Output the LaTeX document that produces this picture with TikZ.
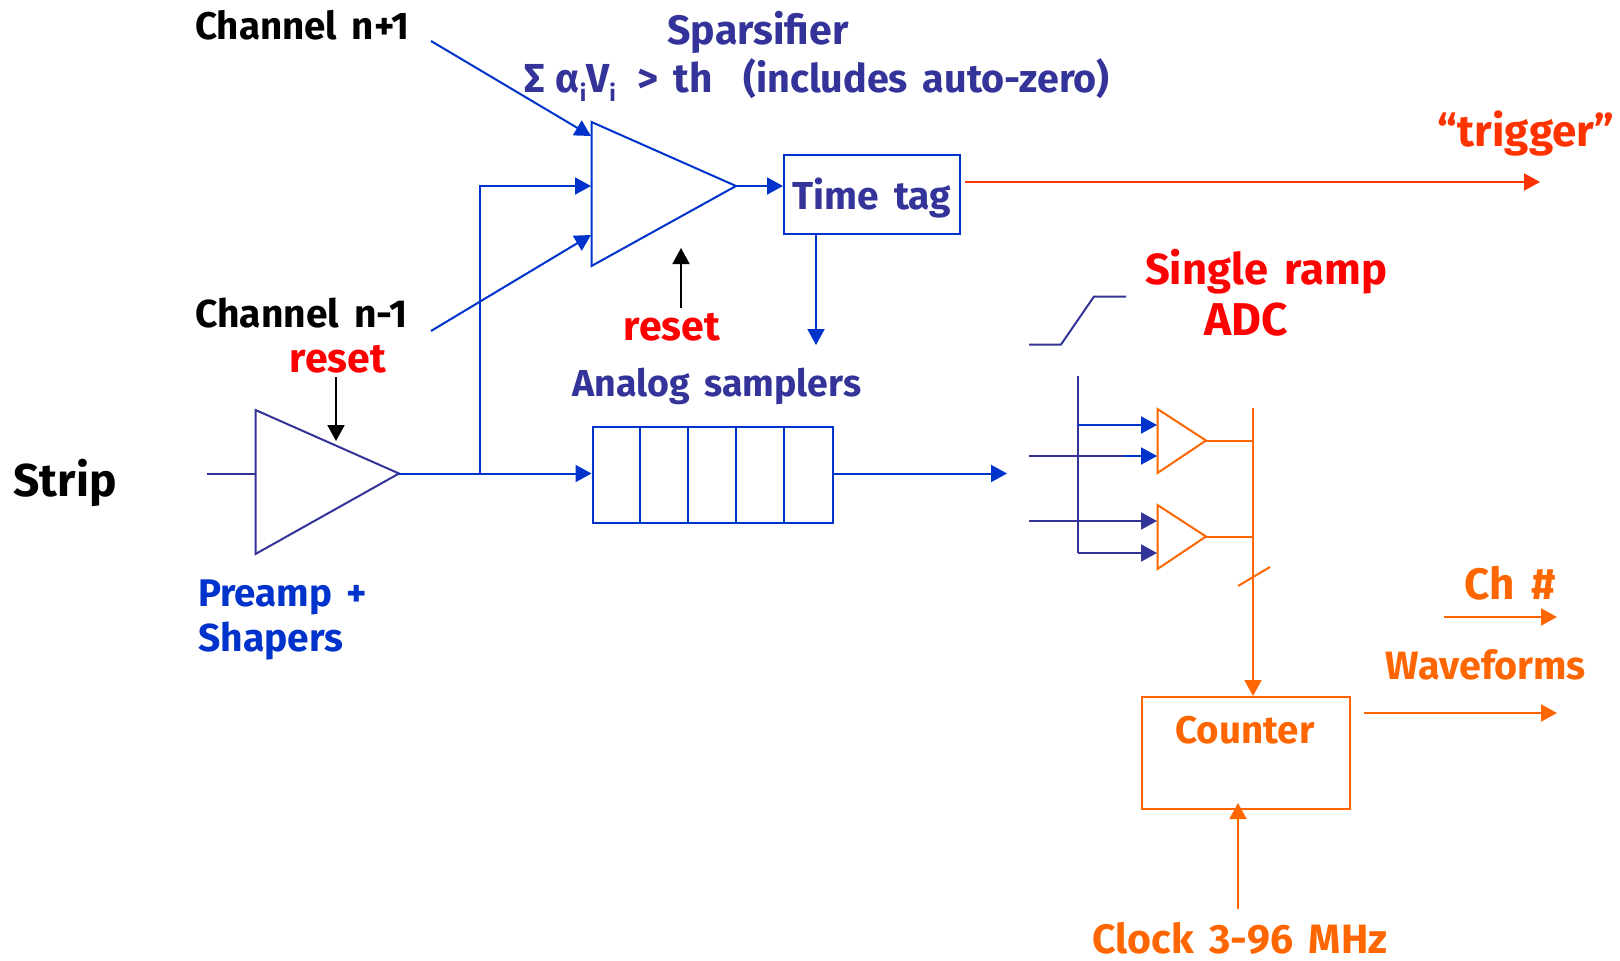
\documentclass[tikz,border=0pt]{standalone}
\usepackage{fontspec}
\setmainfont{Fira Sans}[WordSpace=1.6]
\usetikzlibrary{arrows.meta}
\definecolor{cblue}{HTML}{0033CC}
\definecolor{cnavy}{HTML}{333399}
\definecolor{cred}{HTML}{FF0000}
\definecolor{corange}{HTML}{FF6600}
\definecolor{ctrig}{HTML}{FF3300}
\newcommand{\lowsub}[1]{\raisebox{-.45ex}{\fontsize{23}{23}\selectfont #1}}
\tikzset{
  wire/.style={line width=2pt},
  arr/.style={wire,-{Triangle[length=16pt,width=17pt]}},
  lab/.style={inner sep=0pt,font=\fontsize{#1}{#1}\selectfont\bfseries},
  labl/.style={lab=#1,anchor=west},
  boxb/.style={draw=cblue,wire,inner sep=0pt,anchor=north west},
  boxo/.style={draw=corange,wire,inner sep=0pt,anchor=north west},
  tri/.style={wire,line join=miter}
}
\begin{document}
\begin{tikzpicture}[x=1pt,y=-1pt]
\useasboundingbox (0,0) rectangle (1620,961);
% anchor coordinates
\coordinate (chp) at (431,41);
\coordinate (chm) at (431,331);
\coordinate (sA) at (591.5,122);
\coordinate (sB) at (591.5,266);
\coordinate (sC) at (736,186);
\coordinate (sIn1) at (591,136);
\coordinate (sIn2) at (591,186);
\coordinate (sIn3) at (591,235);
\coordinate (pA) at (255.5,410);
\coordinate (pB) at (255.5,554);
\coordinate (pC) at (399,473.5);
\coordinate (pIn) at (207,473.5);
\coordinate (pI) at (255.5,473.5);
\coordinate (jn) at (480,473.5);
\coordinate (jup) at (480,186);
\coordinate (rs1) at (336,377);
\coordinate (rs1e) at (336,441);
\coordinate (rs2) at (681,308);
\coordinate (rs2e) at (681,248);
\coordinate (trigS) at (965,182);
\coordinate (trigE) at (1540,182);
\coordinate (ttD) at (816,234);
\coordinate (ttE) at (816,345);
\coordinate (sampE) at (1007,473.5);
\coordinate (r1) at (1029,344.5);
\coordinate (r2) at (1061,344.5);
\coordinate (r3) at (1094,296.5);
\coordinate (r4) at (1126,296.5);
\coordinate (bT) at (1078,376);
\coordinate (bB) at (1078,553);
\coordinate (b1) at (1078,425);
\coordinate (a1) at (1157,425);
\coordinate (i2) at (1029,456);
\coordinate (a2) at (1157,456);
\coordinate (i3) at (1029,521);
\coordinate (a3) at (1157,521);
\coordinate (a4) at (1157,553);
\coordinate (u1A) at (1157.5,409);
\coordinate (u1B) at (1157.5,473);
\coordinate (u1C) at (1206,440.5);
\coordinate (u2A) at (1157.5,505);
\coordinate (u2B) at (1157.5,569);
\coordinate (u2C) at (1206,536.5);
\coordinate (oT) at (1253,408);
\coordinate (o1) at (1253,440.5);
\coordinate (o2) at (1253,536.5);
\coordinate (oB) at (1253,696);
\coordinate (sl1) at (1238,586);
\coordinate (sl2) at (1270,567);
\coordinate (ckS) at (1238,909);
\coordinate (ckE) at (1238,803);
\coordinate (chS) at (1444,617);
\coordinate (chE) at (1557,617);
\coordinate (wvS) at (1364,713);
\coordinate (wvE) at (1557,713);
% boxes
\node[boxb,minimum width=176pt,minimum height=79pt] (timetag) at (783,154) {};
\node[boxb,minimum width=240pt,minimum height=96pt] (samp) at (591.5,425.5) {};
\node[boxo,minimum width=208pt,minimum height=112pt] (counter) at (1140.5,696) {};
% sampler dividers
\foreach \x in {640,688,736,784}
  \draw[cblue,wire] (\x,425.5) -- (\x,521.5);
% triangles
\draw[cblue,tri] (sA) -- (sB) -- (sC) -- cycle;
\draw[cnavy,tri] (pA) -- (pB) -- (pC) -- cycle;
\draw[corange,tri] (u1A) -- (u1B) -- (u1C) -- cycle;
\draw[corange,tri] (u2A) -- (u2B) -- (u2C) -- cycle;
% blue wires
\draw[cblue,arr] (chp) -- (sIn1);
\draw[cblue,arr] (chm) -- (sIn3);
\draw[cblue,arr] (jn) -- (jup) -- (sIn2);
\draw[cblue,arr] (sC) -- (timetag.west |- sC);
\draw[cblue,arr] (timetag.south -| ttD) -- (ttE);
\draw[cnavy,wire] (pIn) -- (pI);
\draw[cblue,arr] (pC) -- (samp.west |- pC);
\draw[cblue,arr] (samp.east |- pC) -- (sampE);
\draw[ctrig,arr] (trigS) -- (trigE);
% resets
\draw[black,arr] (rs1) -- (rs1e);
\draw[black,arr] (rs2) -- (rs2e);
% ramp
\draw[cnavy,wire] (r1) -- (r2) -- (r3) -- (r4);
% ADC inputs
\draw[cnavy,wire] (bT) -- (bB);
\draw[cblue,arr] (b1) -- (a1);
\draw[cnavy,wire,shorten >=30pt] (i2) -- (a2);
\draw[cblue,arr,shorten <=95pt] (i2) -- (a2);
\draw[cnavy,arr] (i3) -- (a3);
\draw[cnavy,arr] (bB) -- (a4);
% orange
\draw[corange,wire] (u1C) -- (o1);
\draw[corange,wire] (u2C) -- (o2);
\draw[corange,arr] (oT) -- (oB);
\draw[corange,wire] (sl1) -- (sl2);
\draw[corange,arr] (ckS) -- (ckE);
\draw[corange,arr] (chS) -- (chE);
\draw[corange,arr] (wvS) -- (wvE);
% labels
\node[labl=38.5,text=black] (tchp) at (195,25) {Channel n+1};
\node[labl=39,text=black] (tchm) at (195,313) {Channel n-1};
\node[lab=41,text=cred] (trs1) at (338,359) {reset};
\node[lab=41,text=cred] (trs2) at (672,327) {reset};
\node[lab=41,text=cnavy] (tspar) at (758,32) {Sparsifier};
\node[labl=40.5,text=cnavy] (tform) at (524,80) {Σ\hspace{11pt}α\lowsub{i}V\lowsub{i}\hspace{6pt} > th\ \ {\fontsize{39.5}{39.5}\selectfont (includes auto-zero)}};
\node[lab=44,text=ctrig] (ttrig) at (1526,134) {“trigger”};
\node[lab=39,text=cnavy] (ttt) at (872,198) {Time tag};
\node[lab=37.5,text=cnavy] (tana) at (717,386) {Analog samplers};
\node[lab=43.5,text=cred] (tsr) at (1266,272) {Single ramp};
\node[lab=46,text=cred] (tadc) at (1246,320) {ADC};
\node[lab=46,text=black] (tstrip) at (65,483) {Strip};
\node[labl=38.5,text=cblue] (tpre) at (198,597) {Preamp +};
\node[labl=39,text=cblue] (tsha) at (198,641) {Shapers};
\node[lab=44,text=corange] (tch) at (1510,583) {Ch \#};
\node[lab=39.5,text=corange] (twv) at (1486,665) {Waveforms};
\node[lab=38.5,text=corange] (tcnt) at (1245,730) {Counter};
\node[lab=41,text=corange] (tclk) at (1240,939) {Clock 3-96 MHz};
\end{tikzpicture}
\end{document}
